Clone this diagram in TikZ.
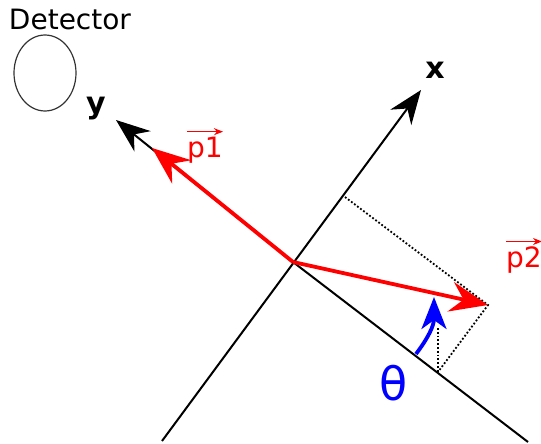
\documentclass[tikz,border=0pt]{standalone}
\usepackage{fontspec}
\setmainfont{DejaVu Sans}
\usetikzlibrary{arrows.meta}

\tikzset{
  axis/.style={black, line width=2pt,
    -{Stealth[length=34pt, width=26pt, inset=11pt]}},
  momentum/.style={red, line width=3.8pt,
    -{Stealth[length=38pt, width=30pt, inset=13pt]}},
  proj/.style={black, line width=1.8pt, dotted},
  vecarrow/.style={red, line width=1.4pt,
    -{Stealth[length=9pt, width=7pt]}},
  lab/.style={font=\fontsize{28}{30}\selectfont},
  axlab/.style={font=\fontsize{30}{32}\selectfont\bfseries}
}

\begin{document}
\begin{tikzpicture}[x=1pt, y={(0,-1pt)}]
  \useasboundingbox (0,0) rectangle (541,444);

  %% ---- Points ----
  \coordinate (O)     at (293,262);
  \coordinate (xend)  at (162,441);
  \coordinate (xtip)  at (421,90);
  \coordinate (yend)  at (528,442);
  \coordinate (ytip)  at (116,120);
  \coordinate (p1tip) at (152,148);
  \coordinate (p2tip) at (488,305);
  \coordinate (xfoot) at (345,197);
  \coordinate (yfoot) at (438,372);
  \coordinate (ymark) at (438,328);
  \coordinate (arcstart) at (416,354);
  \coordinate (arctip)   at (434,297);

  %% ---- Detector ----
  \draw[black!80, line width=1.2pt] (45,73) ellipse (31 and 38);
  \node[lab] (detector) at (70,19) {Detector};

  %% ---- Axes ----
  \draw[axis] (xend) -- (xtip);
  \draw[black, line width=2pt] (O) -- (yend);
  \draw[axis] (O) -- (ytip);
  \node[axlab] (xlab) at (435,70) {x};
  \node[axlab] (ylab) at (96,109) {y};

  %% ---- Projections of p2 ----
  \draw[proj] (xfoot) -- (p2tip) -- (yfoot);
  \draw[proj] (ymark) -- (yfoot);

  %% ---- Momenta ----
  \draw[momentum] (O) -- (p1tip);
  \draw[momentum] (O) -- (p2tip);

  \node[lab, red, inner sep=0pt] (p1lab) at (205,150) {p1};
  \draw[vecarrow] ([yshift=5pt]p1lab.north west) -- ([yshift=5pt]p1lab.north east);
  \node[lab, red, inner sep=0pt] (p2lab) at (524,260) {p2};
  \draw[vecarrow] ([yshift=5pt]p2lab.north west) -- ([yshift=5pt]p2lab.north east);

  %% ---- Angle ----
  \draw[blue, line width=3.8pt, -{Stealth[length=32pt, width=25pt, inset=9pt]}]
    (arcstart) .. controls (428,338) and (434,326) .. (arctip);
  \node[blue, font=\fontsize{46}{48}\selectfont] (theta) at (394,383) {θ};

\end{tikzpicture}
\end{document}
